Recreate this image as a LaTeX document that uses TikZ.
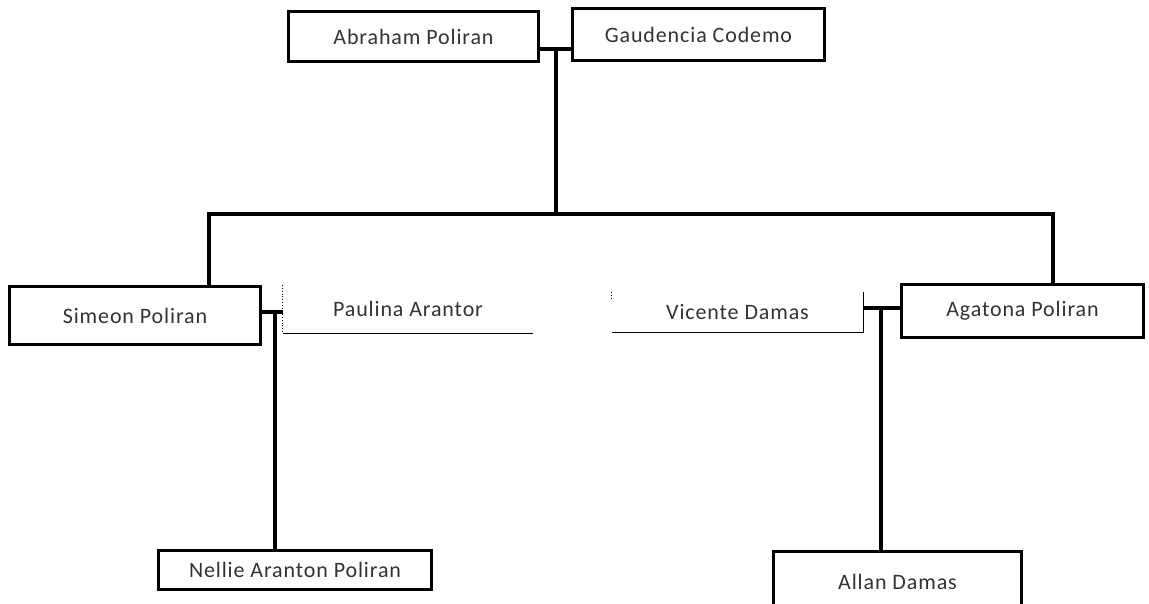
\documentclass[tikz,border=0pt]{standalone}
\usepackage{fontspec}
\setmainfont{Carlito}
\newfontfamily\namefont{Carlito}[LetterSpace=4]
\begin{document}
\begin{tikzpicture}[x=1pt,y=-1pt,
  person/.style={draw, line width=3pt, inner sep=0pt, font={\namefont\fontsize{22}{26}\selectfont}, text=black!80},
  spouse/.style={inner sep=0pt, font={\namefont\fontsize{22}{26}\selectfont}, text=black!80},
  conn/.style={line width=3.2pt},
  thinline/.style={line width=0.9pt}]
\fill[white] (0,0) rectangle (1149,603);
\useasboundingbox (0,0) rectangle (1149,603);
% people
\node[person, minimum width=250, minimum height=50] (ab) at (413.5,36.5) {Abraham Poliran};
\node[person, minimum width=252, minimum height=52] (ga) at (698.5,34.5) {Gaudencia Codemo};
\node[person, minimum width=251, minimum height=58] (si) at (135,315.5) {Simeon Poliran};
\node[person, minimum width=242, minimum height=53] (ag) at (1022.5,311) {Agatona Poliran};
\node[person, minimum width=273, minimum height=39] (ne) at (295,570) {Nellie Aranton Poliran};
\node[person, minimum width=248, minimum height=62] (al) at (897.5,582) {Allan Damas};
\node[spouse, minimum width=250, minimum height=48] (pa) at (408,309) {Paulina Arantor};
\node[spouse, minimum width=251, minimum height=40] (vi) at (737.5,312) {Vicente Damas};
% partial borders of spouse boxes
\draw[thinline, dotted] (pa.north west) -- (pa.south west);
\draw[thinline] (pa.south west) -- (pa.south east);
\draw[thinline, dotted] (vi.north west) -- ++(0,8);
\draw[thinline] (vi.south west) -- (vi.south east) -- (vi.north east);
% connectors
\coordinate (m1) at (556,49);
\coordinate (sj) at (209,214);
\coordinate (aj) at (1053,214);
\coordinate (m2) at (275,312);
\coordinate (m3) at (881,308);
\draw[conn] (ab.east |- m1) -- (ga.west |- m1);
\draw[conn] (m1) -- (m1 |- sj);
\draw[conn] (si.north -| sj) -- (sj) -- (aj) -- (ag.north -| aj);
\draw[conn] (si.east |- m2) -- (pa.west |- m2);
\draw[conn] (m2) -- (ne.north -| m2);
\draw[conn] (vi.east |- m3) -- (ag.west |- m3);
\draw[conn] (m3) -- (al.north -| m3);
\end{tikzpicture}
\end{document}
